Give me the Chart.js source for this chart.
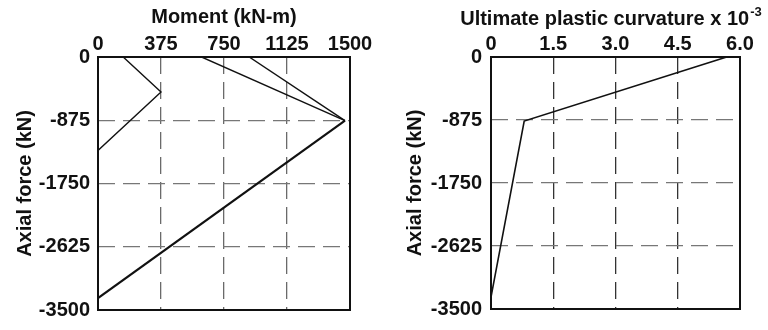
<!DOCTYPE html>
<html>
<head>
<meta charset="utf-8">
<script src="https://cdn.jsdelivr.net/npm/chart.js@4/dist/chart.umd.min.js"></script>
<style>
html,body{margin:0;padding:0;background:#fff;}
#wrap{position:relative;width:768px;height:330px;}
.pane{position:absolute;top:0;width:384px;height:330px;}
</style>
</head>
<body>
<div id="wrap">
  <div class="pane" style="left:0"><canvas id="c1" width="384" height="330"></canvas></div>
  <div class="pane" style="left:384px"><canvas id="c2" width="384" height="330"></canvas></div>
</div>
<script>
// ---- data ----
const axialTicks = [0, -875, -1750, -2625, -3500];
const axialTickLabels = ['0', '-875', '-1750', '-2625', '-3500'];
const momentTicks = [0, 375, 750, 1125, 1500];
const momentTickLabels = ['0', '375', '750', '1125', '1500'];
const curvTicks = [0, 1.5, 3.0, 4.5, 6.0];
const curvTickLabels = ['0', '1.5', '3.0', '4.5', '6.0'];

// left panel series (moment kN-m vs axial kN)
const seriesA_moment = [150, 375, 0];
const seriesA_axial  = [0, -485, -1292];
const seriesB_moment = [617, 1470];
const seriesB_axial  = [0, -880];
const seriesC_moment = [900, 1470];
const seriesC_axial  = [0, -880];
const seriesD_moment = [1470, 0];
const seriesD_axial  = [-880, -3334];

// right panel series (curvature x1e-3 vs axial kN)
const curv_values  = [5.68, 0.80, 0];
const curv_axial   = [0, -890, -3334];

const FONT = "'Liberation Sans', Arial, Helvetica, sans-serif";
const dash = [17, 8];

function pts(xs, ys){ return xs.map((x,i)=>({x:x, y:ys[i]})); }
function lab(ticks, labels){ return v => { const i = ticks.findIndex(t => Math.abs(t - v) < 1e-9); return i >= 0 ? labels[i] : ''; }; }

const framePlugin = {
  id: 'frame',
  afterDatasetsDraw(chart){
    const a = chart.chartArea, ctx = chart.ctx;
    ctx.save();
    ctx.strokeStyle = '#111';
    ctx.lineWidth = 2;
    ctx.strokeRect(a.left, a.top, a.right - a.left, a.bottom - a.top);
    ctx.restore();
  }
};

function lineDs(data, w){
  return {data, showLine:true, borderColor:'#111', backgroundColor:'#111', borderWidth:w, pointRadius:0, tension:0, fill:false};
}

function makeChart(id, cfg){
  return new Chart(document.getElementById(id), {
    type:'scatter',
    data:{datasets:cfg.datasets},
    options:{
      responsive:false, animation:false, devicePixelRatio:1,
      layout:{padding:{left:0, top:0, right:cfg.padRight, bottom:13}},
      plugins:{legend:{display:false}, tooltip:{enabled:false}, title:{display:false}},
      scales:{
        x:{
          type:'linear', position:'top', min:cfg.xmin, max:cfg.xmax,
          afterBuildTicks: s => { s.ticks = cfg.xTicks.map(v=>({value:v})); },
          afterFit: s => { s.height = 57; },
          ticks:{callback: lab(cfg.xTicks, cfg.xLabels), color:'#111', font:{family:FONT, size:20, weight:'bold'}, padding:1, maxRotation:0, autoSkip:false},
          grid:{color:cfg.xGridColor, lineWidth:1.3, drawTicks:false, borderDash:dash},
          border:{display:false, dash:dash},
          title:{display:cfg.xTitle !== null, text:cfg.xTitle || '', color:'#111', font:{family:FONT, size:20, weight:'bold'}, padding:{top:5, bottom:0}}
        },
        y:{
          type:'linear', position:'left', min:-3500, max:0,
          afterBuildTicks: s => { s.ticks = axialTicks.map(v=>({value:v})); },
          afterFit: s => { s.width = cfg.yWidth; },
          ticks:{callback: lab(axialTicks, axialTickLabels), color:'#111', font:{family:FONT, size:20, weight:'bold'}, padding:cfg.yTickPad, autoSkip:false},
          grid:{color:'#777', lineWidth:1.3, drawTicks:false, borderDash:dash},
          border:{display:false, dash:dash},
          title:{display:true, text:'Axial force (kN)', color:'#111', font:{family:FONT, size:20, weight:'bold'}, padding:{top:cfg.yTitlePad, bottom:0}}
        }
      }
    },
    plugins:[framePlugin].concat(cfg.extraPlugins || [])
  });
}

makeChart('c1', {
  datasets:[
    lineDs(pts(seriesA_moment, seriesA_axial), 1.4),
    lineDs(pts(seriesB_moment, seriesB_axial), 1.4),
    lineDs(pts(seriesC_moment, seriesC_axial), 1.4),
    lineDs(pts(seriesD_moment, seriesD_axial), 2.2)
  ],
  xmin:0, xmax:1500, xTicks:momentTicks, xLabels:momentTickLabels,
  xTitle:'Moment (kN-m)', xGridColor:'#6a6a6a',
  padRight:34, yWidth:98, yTickPad:8, yTitlePad:13
});

const curvTitlePlugin = {
  id:'curvTitle',
  afterDraw(chart){
    const ctx = chart.ctx, a = chart.chartArea;
    const main = 'Ultimate plastic curvature x 10';
    const sup = '-3';
    ctx.save();
    ctx.fillStyle = '#111';
    ctx.textBaseline = 'alphabetic';
    ctx.font = 'bold 20px ' + FONT;
    const wm = ctx.measureText(main).width;
    ctx.font = 'bold 13px ' + FONT;
    const ws = ctx.measureText(sup).width;
    const cx = (a.left + a.right) / 2 - 5;
    const x0 = cx - (wm + ws) / 2;
    ctx.font = 'bold 20px ' + FONT;
    ctx.fillText(main, x0, 25);
    ctx.font = 'bold 13px ' + FONT;
    ctx.fillText(sup, x0 + wm + 1, 16);
    ctx.restore();
  }
};

makeChart('c2', {
  datasets:[
    lineDs(pts(curv_values, curv_axial), 1.6)
  ],
  xmin:0, xmax:6, xTicks:curvTicks, xLabels:curvTickLabels,
  xTitle:null, xGridColor:'#333',
  padRight:28, yWidth:107, yTickPad:9, yTitlePad:19,
  extraPlugins:[curvTitlePlugin]
});
</script>
</body>
</html>
